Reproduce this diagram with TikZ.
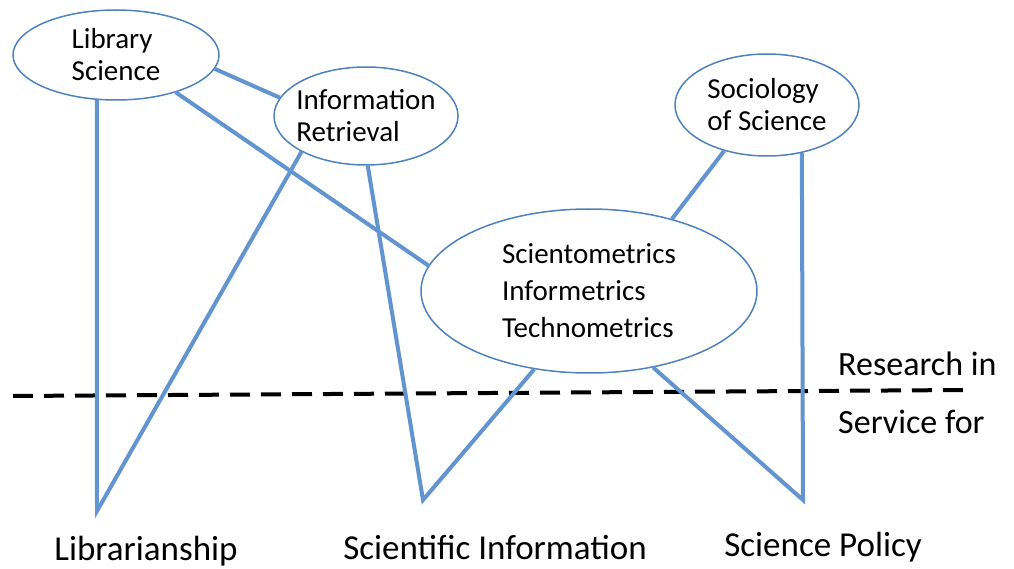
\documentclass[tikz,border=0pt]{standalone}
\usepackage{fontspec}
\setmainfont{Carlito}
\usetikzlibrary{shapes.geometric}
\usetikzlibrary{positioning}
\definecolor{ovalblue}{RGB}{79,129,189}
\definecolor{lineblue}{RGB}{98,148,208}
\tikzset{x=1pt, y=-1pt,
field/.style={ % Sets the properties of each research field
ellipse,
draw=ovalblue,
line width=1.5pt,
fill=white,
inner sep=0pt,
align=left,
font=\fontsize{29}{32}\selectfont},
conn/.style={ % Lines between fields and practice
draw=lineblue,
line width=4pt},
practice/.style={ % Labels along the bottom
inner sep=0pt,
anchor=base,
font=\fontsize{35}{40}\selectfont}}

\begin{document}
\begin{tikzpicture}
	\useasboundingbox (0,0) rectangle (1014,569);
	\node[field, minimum width=206pt, minimum height=90pt] (ls) at (116,55) {Library\\Science};
	\node[field, inner xsep=-5pt, minimum width=184pt, minimum height=98pt] (ir) at (366,116) {Information\\Retrieval};
	\node[field, minimum width=184pt, minimum height=102pt] (ss) at (767,105) {Sociology\\of Science};
	\node[field, minimum width=336pt, minimum height=164pt, font=\fontsize{29}{37}\selectfont] (sim) at (589,291) {Scientometrics\\Informetrics\\Technometrics};
	\coordinate (split w) at (13,396);
	\coordinate (split e) at (967,390);
	\draw[line width=4pt, dash pattern=on 20pt off 11pt] (split w) -- (split e);
	\coordinate (lib) at (97,511);
	\coordinate (sci) at (423,500);
	\coordinate (pol) at (803,500);
	\draw[conn] (ls.247) -- (lib) -- (ir.209);
	\draw[conn] (ir.272) -- (sci) -- (sim.235);
	\draw[conn] (ss.306) -- (pol) -- (sim.310);
	\draw[conn] (ls.-8) -- (ir.168);
	\draw[conn] (ls.-32) -- (sim.171);
	\draw[conn] (ss.227) -- (sim.41);
	\node[inner sep=0pt, anchor=base west, font=\fontsize{34}{40}\selectfont] (res) at (838,375) {Research in};
	\node[inner sep=0pt, anchor=base west, font=\fontsize{34}{40}\selectfont] (srv) at (838,433) {Service for};
	\node[practice] (libr) at (146,560) {Librarianship};
	\node[practice] (scin) at (495,559) {Scientific Information};
	\node[practice] (spol) at (823,556) {Science Policy};
\end{tikzpicture}
\end{document}
